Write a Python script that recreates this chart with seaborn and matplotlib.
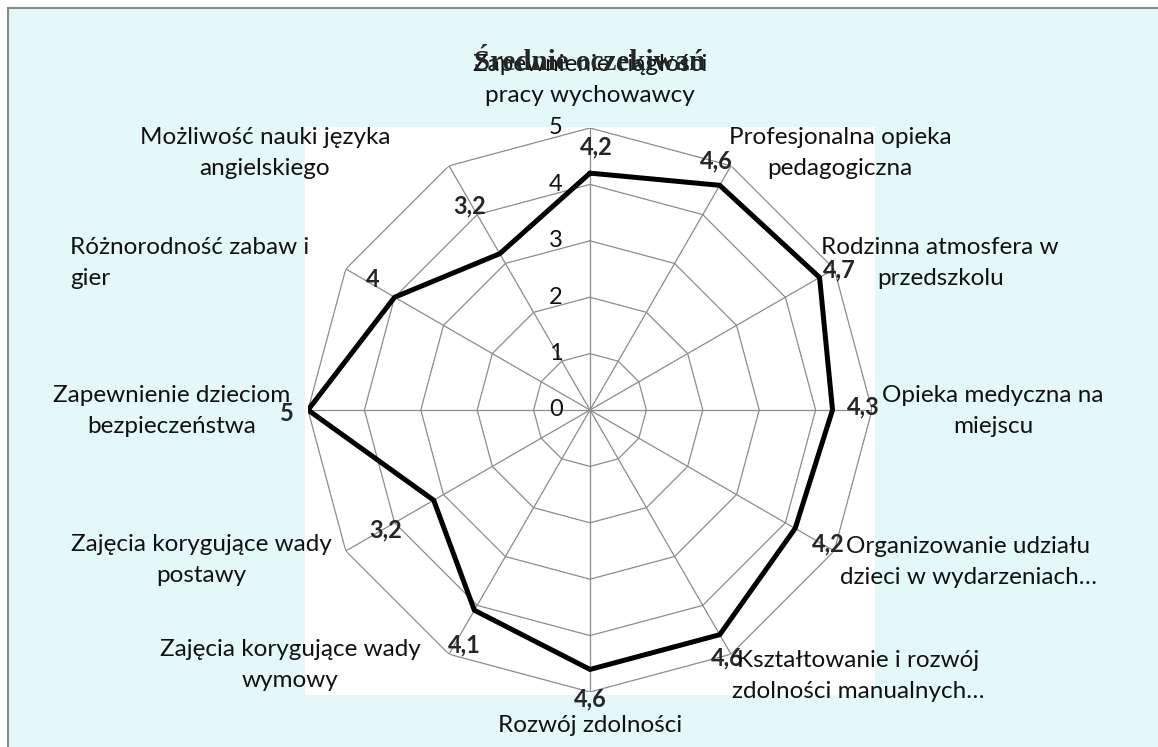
"""Wykres radarowy: średnie oczekiwań rodziców wobec przedszkola."""
import numpy as np
import matplotlib
matplotlib.use("Agg")
import matplotlib.pyplot as plt
from matplotlib.patches import Rectangle
import seaborn as sns

categories = [
    "Zapewnienie ciągłości\npracy wychowawcy",
    "Profesjonalna opieka\npedagogiczna",
    "Rodzinna atmosfera w\nprzedszkolu",
    "Opieka medyczna na\nmiejscu",
    "Organizowanie udziału\ndzieci w wydarzeniach…",
    "Kształtowanie i rozwój\nzdolności manualnych…",
    "Rozwój zdolności",
    "Zajęcia korygujące wady\nwymowy",
    "Zajęcia korygujące wady\npostawy",
    "Zapewnienie dzieciom\nbezpieczeństwa",
    "Różnorodność zabaw i\ngier",
    "Możliwość nauki języka\nangielskiego",
]
values = [4.2, 4.6, 4.7, 4.3, 4.2, 4.6, 4.6, 4.1, 3.2, 5, 4, 3.2]
radial_ticks = [0, 1, 2, 3, 4, 5]
title = "Średnie oczekiwań"

# przesunięcia etykiet (piksele, oś y w górę)
value_offsets = [(6, 26), (-3, 24), (20, 8), (31, 3), (33, -15), (8, -23),
                 (0, -29), (-10, -35), (-48, -30), (-21, -3), (-22, 18), (-30, 48)]
cat_offsets = [(0, 48), (109, 13), (106, 6), (121, -1), (134, -11), (127, -22),
               (0, -33), (-159, -11), (-144, -9), (-136, -1), (-156, 6), (-184, 13)]
cat_align = ["center"] * 10 + ["left", "center"]

sns.set_theme(style="white")
plt.rcParams["font.family"] = ["Lato", "DejaVu Sans"]

W, H = 1158, 747
fig = plt.figure(figsize=(W / 100, H / 100), dpi=100)
fig.patch.set_facecolor("white")
fig.patches.append(Rectangle((8 / W, -0.02), 1.1, 1 - 8 / H + 0.02, transform=fig.transFigure,
                             facecolor="#e3f8f7", edgecolor="#8a8a8a", lw=1.5, zorder=0))
fig.patches.append(Rectangle((305 / W, 52 / H), 570 / W, 568 / H, transform=fig.transFigure,
                             facecolor="white", edgecolor="none", zorder=1))

cx, cy, R = 590, 410, 282
ax = fig.add_axes([(cx - R) / W, (H - cy - R) / H, 2 * R / W, 2 * R / H], projection="polar")
ax.set_zorder(2)
ax.set_facecolor("none")
ax.set_theta_offset(np.pi / 2)
ax.set_theta_direction(-1)
ax.set_ylim(0, 5)
ax.grid(False)
ax.spines["polar"].set_visible(False)
ax.set_xticks([])
ax.set_yticks([])

n = len(categories)
angles = np.linspace(0, 2 * np.pi, n, endpoint=False)
closed = np.append(angles, 2 * np.pi)
grid_col = "#8c8c8c"
for r in radial_ticks[1:]:
    ax.plot(closed, [r] * (n + 1), color=grid_col, lw=0.9, zorder=2)
for a in angles:
    ax.plot([a, a], [0, radial_ticks[-1]], color=grid_col, lw=0.9, zorder=2)

for r in radial_ticks:
    ax.annotate(str(r), xy=(0, r), xytext=(-34, 0), textcoords="offset pixels",
                ha="center", va="center", fontsize=17, color="#111111", zorder=3)

sns.lineplot(x=closed, y=np.append(values, values[0]), sort=False, ax=ax,
             color="black", lw=3.6, zorder=4)

for a, v, off in zip(angles, values, value_offsets):
    txt = str(int(v)) if float(v).is_integer() else str(v).replace(".", ",")
    ax.annotate(txt, xy=(a, v), xytext=off, textcoords="offset pixels",
                ha="center", va="center", fontsize=17, fontweight="bold", zorder=5,
                annotation_clip=False)

for a, lab, off, al in zip(angles, categories, cat_offsets, cat_align):
    ax.annotate(lab, xy=(a, 5), xytext=off, textcoords="offset pixels",
                ha="center", va="center", fontsize=17.5, linespacing=1.6,
                multialignment=al, color="#111111", annotation_clip=False, zorder=5)

fig.text(cx / W, 1 - 62 / H, title, ha="center", va="center", fontsize=21,
         fontweight="bold", family=["Liberation Serif", "DejaVu Serif"], zorder=6)

fig.savefig("out.png", dpi=100)
